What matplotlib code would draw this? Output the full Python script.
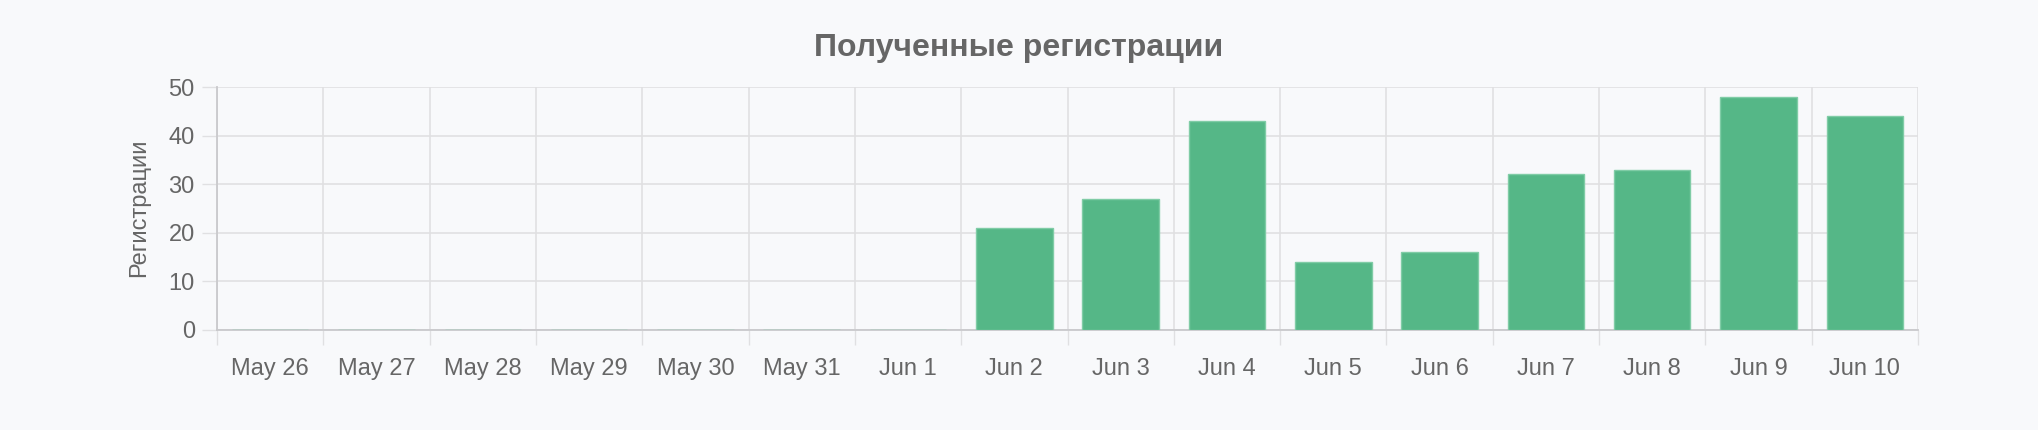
import numpy as np
import matplotlib
matplotlib.use("Agg")
import matplotlib.pyplot as plt
from matplotlib.ticker import MultipleLocator, FixedLocator

# data
days = ["May 26", "May 27", "May 28", "May 29", "May 30", "May 31", "Jun 1",
        "Jun 2", "Jun 3", "Jun 4", "Jun 5", "Jun 6", "Jun 7", "Jun 8", "Jun 9", "Jun 10"]
registrations = [0, 0, 0, 0, 0, 0, 0, 21, 27, 43, 14, 16, 32, 33, 48, 44]

title = "Полученные регистрации"
y_label = "Регистрации"

plt.rcParams['font.family'] = ['Liberation Sans', 'DejaVu Sans']

bg = '#f8f9fb'
text_col = '#666666'
grid_col = '#e0e0e2'
bar_col = '#55b787'

fig = plt.figure(figsize=(20.38, 4.30), dpi=100, facecolor=bg)
ax = fig.add_axes([217 / 2038, 1 - 330 / 430, 1701 / 2038, 243 / 430])
ax.set_facecolor(bg)

x = np.arange(len(days))
ax.bar(x, registrations, width=0.72, color=bar_col, edgecolor='#80cca6', linewidth=1, zorder=3)

ax.set_xlim(-0.5, len(days) - 0.5)
ax.set_ylim(0, 50)

ax.set_xticks(x)
ax.set_xticklabels(days)
ax.xaxis.set_minor_locator(FixedLocator(np.arange(-0.5, len(days), 1.0)))
ax.yaxis.set_major_locator(MultipleLocator(10))

ax.tick_params(axis='x', which='major', length=0, pad=20, labelsize=17, labelcolor=text_col)
ax.tick_params(axis='x', which='minor', length=11, width=1, color=grid_col)
ax.tick_params(axis='y', which='major', length=11, width=1, color=grid_col, pad=5,
               labelsize=17, labelcolor=text_col)

ax.grid(True, axis='y', which='major', color=grid_col, linewidth=1.2, zorder=0)
ax.grid(True, axis='x', which='minor', color=grid_col, linewidth=1.2, zorder=0)
ax.set_axisbelow(True)

for s in ['top', 'right']:
    ax.spines[s].set_visible(False)
for s in ['left', 'bottom']:
    ax.spines[s].set_color('#c9c9cc')
    ax.spines[s].set_linewidth(1.3)

fig.text(139 / 2038, 1 - 208 / 430, y_label, rotation=90, ha='center', va='center',
         fontsize=17, color=text_col)
fig.text(0.5, 1 - 48 / 430, title, ha='center', va='center', fontsize=23,
         fontweight='bold', color=text_col)

fig.savefig('out.png', dpi=100, facecolor=bg)
